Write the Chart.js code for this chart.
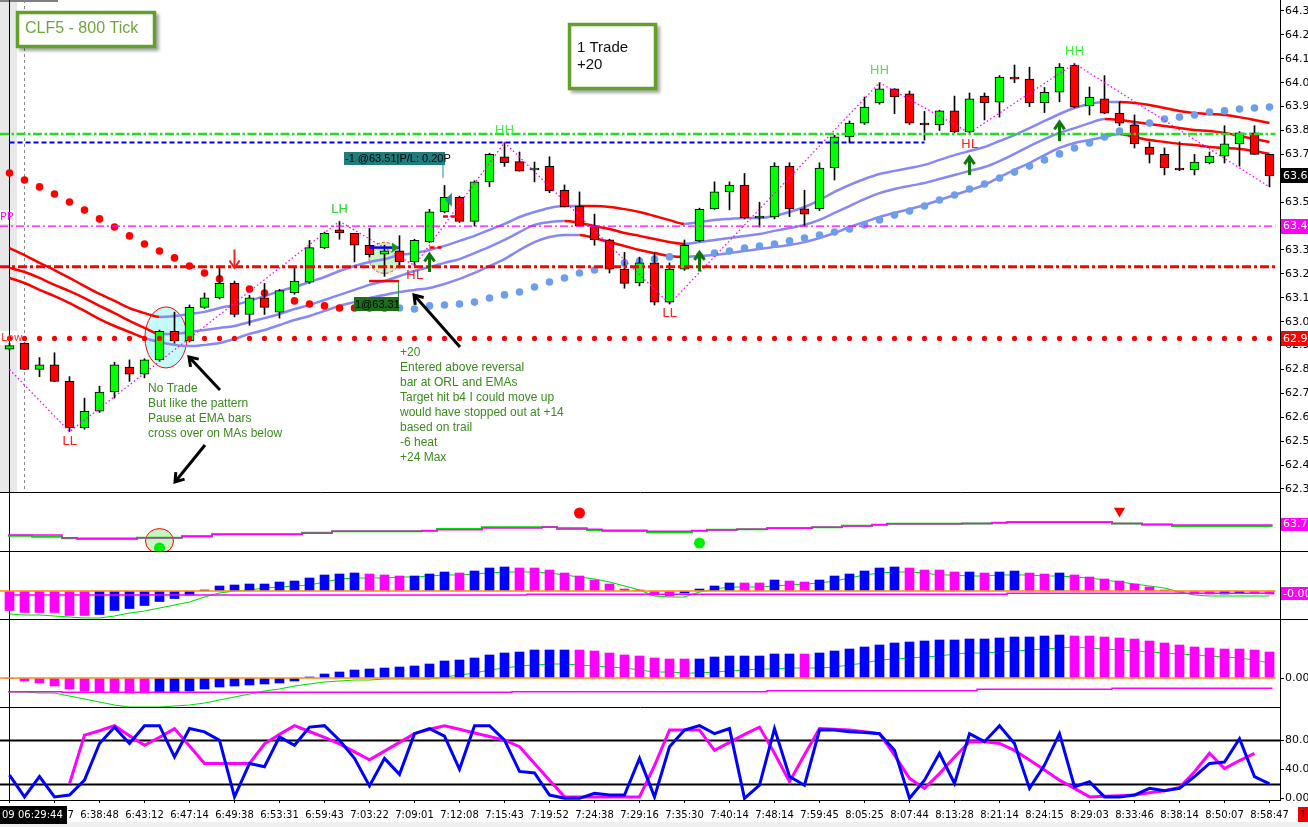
<!DOCTYPE html>
<html><head><meta charset="utf-8">
<script src="https://cdn.jsdelivr.net/npm/chart.js@4.4.1/dist/chart.umd.min.js"></script>
<style>
html,body{margin:0;padding:0;background:#fff;overflow:hidden;}
#wrap{position:relative;width:1308px;height:827px;background:#fff;}
canvas{position:absolute;left:0;}
</style></head><body>
<div id="wrap">
<canvas id="c1" width="1308" height="492" style="top:0px"></canvas>
<canvas id="c2" width="1308" height="59" style="top:492px"></canvas>
<canvas id="c3" width="1308" height="68" style="top:551px"></canvas>
<canvas id="c4" width="1308" height="88" style="top:619px"></canvas>
<canvas id="c5" width="1308" height="120" style="top:707px"></canvas>
</div>
<script>
// ---------------- DATA ----------------
const tickBars = [0,3,6,9,12,15,18,21,24,27,30,33,36,39,42,45,48,51,54,57,60,63,66,69,72,75,78,81,84];
const timeLabels = ['06:29:44','6:34:17','6:38:48','6:43:12','6:47:14','6:49:38','6:53:31','6:59:43','7:03:22','7:09:01','7:12:08','7:15:43','7:19:52','7:24:38','7:29:16','7:35:30','7:40:14','7:48:14','7:59:45','8:05:25','8:07:44','8:13:28','8:21:14','8:24:15','8:29:03','8:33:46','8:38:14','8:50:07','8:58:47'];
const cursorDate = '09';
const priceTicks = [62.3,62.4,62.5,62.6,62.7,62.8,62.9,63.0,63.1,63.2,63.3,63.4,63.5,63.6,63.7,63.8,63.9,64.0,64.1,64.2,64.3];

const open = [
 62.885,62.91,62.80,62.82,62.75,62.555,62.626,62.706,62.81,62.78,
 62.84,62.96,62.92,63.06,63.10,63.16,63.03,63.10,63.04,63.12,
 63.165,63.31,63.384,63.37,63.32,63.283,63.296,63.25,63.335,63.46,
 63.52,63.42,63.585,63.69,63.67,63.635,63.65,63.55,63.484,63.40,
 63.342,63.22,63.162,63.246,63.082,63.22,63.338,63.472,63.543,63.572,
 63.434,63.438,63.651,63.472,63.472,63.643,63.773,63.831,63.915,63.974,
 63.953,63.831,63.823,63.882,63.794,63.944,63.919,64.024,64.015,63.915,
 63.96,64.074,63.903,63.932,63.873,63.823,63.731,63.70,63.643,63.635,
 63.664,63.693,63.744,63.79,63.70];
const high = [
 62.91,62.91,62.85,62.87,62.77,62.68,62.73,62.83,62.84,62.845,
 62.965,63.04,63.07,63.12,63.23,63.17,63.11,63.16,63.135,63.23,
 63.34,63.375,63.42,63.37,63.39,63.32,63.36,63.345,63.47,63.57,
 63.525,63.59,63.705,63.75,63.71,63.668,63.69,63.572,63.543,63.45,
 63.345,63.29,63.27,63.288,63.246,63.342,63.475,63.585,63.585,63.62,
 63.50,63.665,63.665,63.55,63.665,63.78,63.84,63.94,64.00,63.975,
 63.965,63.88,63.885,63.944,63.957,63.957,64.03,64.074,64.065,63.98,
 64.08,64.08,63.982,64.03,63.92,63.865,63.752,63.727,63.752,63.70,
 63.71,63.82,63.795,63.82,63.70];
const low = [
 62.88,62.80,62.77,62.75,62.54,62.55,62.62,62.68,62.75,62.765,
 62.835,62.91,62.915,63.055,63.095,63.02,62.985,63.03,63.015,63.115,
 63.16,63.305,63.345,63.25,63.27,63.19,63.225,63.235,63.33,63.455,
 63.415,63.40,63.565,63.65,63.63,63.585,63.54,63.48,63.40,63.32,
 63.204,63.14,63.15,63.07,63.074,63.215,63.335,63.47,63.468,63.43,
 63.396,63.43,63.44,63.40,63.465,63.593,63.748,63.825,63.91,63.87,
 63.825,63.76,63.80,63.79,63.79,63.844,63.856,64.00,63.90,63.875,
 63.92,63.895,63.865,63.87,63.82,63.727,63.664,63.614,63.632,63.614,
 63.66,63.664,63.651,63.70,63.564];
const close = [
 62.90,62.80,62.82,62.75,62.555,62.625,62.706,62.82,62.78,62.84,
 62.96,62.92,63.06,63.10,63.16,63.03,63.10,63.06,63.13,63.17,
 63.31,63.37,63.371,63.32,63.28,63.297,63.25,63.34,63.46,63.52,
 63.42,63.585,63.70,63.665,63.63,63.643,63.547,63.48,63.40,63.342,
 63.22,63.16,63.246,63.082,63.22,63.32,63.47,63.543,63.572,63.434,
 63.442,63.651,63.472,63.45,63.643,63.773,63.831,63.898,63.974,63.94,
 63.831,63.823,63.882,63.794,63.932,63.915,64.024,64.015,63.915,63.96,
 64.065,63.898,63.94,63.873,63.831,63.744,63.70,63.643,63.635,63.668,
 63.693,63.744,63.79,63.70,63.61];

const ema1 = [
 63.308,63.279,63.246,63.216,63.183,63.149,63.116,63.087,63.057,63.036,
 63.020,63.024,63.032,63.041,63.057,63.070,63.087,63.107,63.128,63.145,
 63.166,63.187,63.212,63.233,63.250,63.262,63.279,63.287,63.300,63.317,
 63.338,63.359,63.384,63.409,63.438,63.459,63.476,63.484,63.484,63.484,
 63.480,63.471,63.459,63.442,63.425,63.409,63.417,63.425,63.430,63.434,
 63.434,63.442,63.459,63.480,63.509,63.543,63.572,63.597,63.618,63.631,
 63.643,63.656,63.677,63.697,63.714,63.731,63.756,63.781,63.810,63.840,
 63.869,63.894,63.911,63.919,63.919,63.915,63.907,63.894,63.882,63.873,
 63.869,63.865,63.856,63.844,63.831];
const ema2 = [
 63.225,63.208,63.183,63.154,63.128,63.099,63.066,63.036,63.003,62.974,
 62.949,62.949,62.957,62.965,62.974,62.982,62.999,63.015,63.032,63.053,
 63.070,63.091,63.112,63.133,63.154,63.170,63.191,63.212,63.229,63.246,
 63.262,63.287,63.313,63.342,63.375,63.405,63.417,63.421,63.413,63.400,
 63.388,63.371,63.359,63.346,63.333,63.325,63.333,63.342,63.350,63.359,
 63.367,63.380,63.392,63.405,63.426,63.455,63.484,63.513,63.538,63.555,
 63.568,63.580,63.597,63.614,63.631,63.647,63.672,63.702,63.735,63.764,
 63.790,63.810,63.831,63.848,63.844,63.836,63.827,63.819,63.810,63.802,
 63.798,63.790,63.777,63.764,63.752];
const ema3 = [
 63.183,63.162,63.133,63.107,63.078,63.045,63.011,62.982,62.957,62.932,
 62.915,62.903,62.898,62.903,62.911,62.928,62.949,62.965,62.986,63.007,
 63.024,63.045,63.066,63.082,63.099,63.112,63.124,63.133,63.141,63.158,
 63.179,63.204,63.233,63.262,63.300,63.333,63.354,63.363,63.363,63.350,
 63.333,63.317,63.300,63.287,63.275,63.271,63.275,63.279,63.287,63.296,
 63.304,63.313,63.321,63.333,63.350,63.371,63.396,63.417,63.438,63.455,
 63.471,63.488,63.509,63.530,63.551,63.572,63.605,63.635,63.664,63.697,
 63.727,63.748,63.760,63.773,63.785,63.773,63.760,63.752,63.744,63.739,
 63.731,63.727,63.723,63.714,63.702];
// bar ranges where each average is in its falling (red) state
const ema1Down = [[0,10],[38,45],[74,85]];
const ema2Down = [[0,10],[37,45],[73,85]];
const ema3Down = [[0,9],[38,45],[74,85]];

// trailing stop dots: red from bar 0, blue from bar 26
const sarRed = [63.622,63.593,63.564,63.534,63.501,63.467,63.430,63.396,63.359,63.325,
 63.296,63.267,63.233,63.204,63.179,null,63.137,63.120,63.103,63.087,
 63.074,63.066,63.057,63.057,63.057,63.057];
const sarBlueStart = 26;
const sarBlue = [63.057,63.053,63.066,63.070,
 63.074,63.082,63.099,63.112,63.124,63.145,63.166,63.183,63.204,63.216,
 63.233,63.246,63.254,63.262,63.271,63.271,63.275,63.287,63.296,63.308,
 63.317,63.325,63.338,63.350,63.363,63.375,63.388,63.405,63.426,63.446,
 63.463,63.484,63.509,63.530,63.555,63.576,63.601,63.626,63.651,63.677,
 63.702,63.727,63.748,63.773,63.798,63.819,63.831,63.848,63.856,63.865,
 63.877,63.882,63.890,63.894,63.898];

// swing zigzag pivots [bar, price]
const swingPivots = [[0,62.80],[4,62.54],[22,63.42],[27,63.235],[33,63.75],[44,63.074],[58,64.00],[64,63.79],[71,64.08],[84,63.564]];
const swingLabels = [['LL',4,62.497],['LH',22,63.467],['HL',27,63.191],['HH',33,63.798],['LL',44,63.032],['HH',58,64.049],['HL',64,63.739],['HH',71,64.128]];
const signalArrows = [[15,63.302,63.225],[28,63.208,63.283],[46,63.21,63.29],[64,63.614,63.69],[70,63.755,63.836]];

const greenLevel = 63.785, blueLevel = 63.75, blueLevelEnd = 61, ppLevel = 63.40, redLevel = 63.23, lowLevel = 62.93;
const tradeEntry = 63.31, tradeStop = 63.17, tradeTarget = 63.44, tradeExit = 63.51;
const noTradeZone = [10.43, 62.934];
const entryZone = [25.0, 63.267];

// panel 2 step lines [bar where value starts, value]
const p2Mag = [[-0.1,63.618],[3.5,63.595],[4.5,63.590],[8.5,63.595],[11.5,63.604],[13.5,63.624],[19.5,63.633],[21.5,63.650],[27.5,63.655],[28.5,63.663],[31.5,63.678],[35.5,63.686],[36.5,63.678],[38.5,63.667],[39.5,63.658],[42.5,63.650],[45.5,63.655],[46.5,63.661],[48.5,63.667],[50.5,63.675],[53.5,63.684],[55.5,63.695],[57.5,63.706],[58.5,63.714],[63.5,63.717],[65.5,63.723],[66.5,63.726],[73.5,63.717],[75.5,63.709],[77.5,63.703],[84.2,63.703]];
const p2Grn = [[-0.1,63.612],[1.5,63.604],[3.5,63.590],[4.5,63.584],[8.5,63.595],[11.5,63.610],[13.5,63.624],[19.5,63.638],[21.5,63.650],[27.5,63.655],[28.5,63.669],[31.5,63.684],[35.5,63.686],[36.5,63.669],[38.5,63.661],[39.5,63.652],[42.5,63.641],[45.5,63.655],[46.5,63.663],[48.5,63.667],[50.5,63.678],[53.5,63.684],[55.5,63.697],[57.5,63.706],[58.5,63.714],[63.5,63.717],[65.5,63.723],[66.5,63.728],[73.5,63.717],[75.5,63.706],[77.5,63.695],[84.2,63.695]];
const p2RedDots = [[38,63.805]];
const p2GreenDots = [[46,63.550],[10,63.508]];
const p2RedTriangles = [[74,63.822]];
const p2Zone = [10, 63.567];

const hist1 = [
 -0.039,-0.043,-0.043,-0.043,-0.049,-0.049,-0.047,-0.039,-0.035,-0.029,
 -0.021,-0.015,-0.008,0.002,0.010,0.012,0.014,0.014,0.018,0.020,
 0.026,0.032,0.034,0.036,0.034,0.032,0.030,0.030,0.034,0.038,
 0.036,0.040,0.046,0.048,0.046,0.046,0.042,0.036,0.030,0.022,
 0.014,0.004,0.002,-0.008,-0.010,-0.004,0.004,0.010,0.016,0.016,
 0.016,0.022,0.020,0.018,0.022,0.030,0.034,0.040,0.046,0.048,
 0.046,0.042,0.042,0.038,0.038,0.036,0.038,0.040,0.036,0.034,
 0.036,0.032,0.028,0.024,0.020,0.014,0.008,0.002,-0.002,-0.006,
 -0.006,-0.006,-0.004,-0.004,-0.006];
const hist1Col = 'MMMMMM'+'BBBBBBBBBBBBBBBBBB'+'MMM'+'BBB'+'M'+'BBB'+'MMMMMMMMMMM'+'BBBB'+'MM'+'B'+'MM'+'BBBBBB'+'MMMM'+'B'+'M'+'BB'+'MM'+'B'+'MMMMMMMMMM'+'BB'+'MM';
const sig1 = [
 -0.046,-0.048,-0.048,-0.050,-0.052,-0.054,-0.054,-0.050,-0.044,-0.040,
 -0.034,-0.028,-0.022,-0.012,-0.004,0.000,0.002,0.006,0.008,0.010,
 0.012,0.018,0.024,0.026,0.026,0.026,0.028,0.028,0.030,0.032,
 0.032,0.034,0.036,0.038,0.038,0.038,0.036,0.032,0.028,0.024,
 0.018,0.010,0.002,-0.010,-0.012,-0.012,-0.002,0.004,0.008,0.008,
 0.008,0.010,0.012,0.014,0.016,0.020,0.026,0.032,0.036,0.038,
 0.038,0.036,0.032,0.032,0.030,0.030,0.032,0.032,0.032,0.030,
 0.030,0.028,0.026,0.022,0.018,0.014,0.010,0.006,-0.002,-0.008,
 -0.010,-0.010,-0.010,-0.010,-0.010];
const base1 = [[-0.1,-0.008],[34.5,-0.0065],[66.5,-0.0047],[84.2,-0.0047]];

const hist2 = [
 -0.0005,-0.003,-0.005,-0.008,-0.011,-0.013,-0.014,-0.014,-0.015,-0.015,
 -0.014,-0.014,-0.013,-0.011,-0.009,-0.008,-0.007,-0.006,-0.005,-0.003,
 0.001,0.004,0.006,0.008,0.009,0.010,0.011,0.012,0.014,0.017,
 0.018,0.020,0.023,0.025,0.026,0.028,0.028,0.028,0.028,0.027,
 0.025,0.023,0.022,0.020,0.019,0.019,0.019,0.021,0.022,0.022,
 0.022,0.024,0.024,0.024,0.025,0.027,0.029,0.031,0.033,0.035,
 0.036,0.037,0.038,0.038,0.039,0.039,0.040,0.041,0.041,0.042,
 0.043,0.042,0.042,0.041,0.040,0.039,0.037,0.035,0.033,0.031,
 0.030,0.029,0.029,0.028,0.026];
const hist2Col = 'MMMMMMMMMM'+'BBBBBBBBBBBBBBBBBBBBBBBBBBBB'+'MMMMMMMM'+'BBBBBBB'+'M'+'BBBBBBBBBBBBBBBBB'+'MMMMMMMMMMMMMM';
const sig2 = [
 -0.014,-0.014,-0.015,-0.015,-0.018,-0.021,-0.024,-0.027,-0.029,-0.029,
 -0.029,-0.028,-0.027,-0.025,-0.022,-0.019,-0.016,-0.013,-0.011,-0.008,
 -0.006,-0.004,-0.003,-0.002,-0.002,-0.001,-0.001,-0.001,-0.001,0.001,
 0.003,0.005,0.008,0.010,0.012,0.013,0.014,0.014,0.013,0.012,
 0.011,0.010,0.008,0.006,0.006,0.005,0.005,0.006,0.007,0.008,
 0.009,0.009,0.010,0.010,0.010,0.011,0.013,0.015,0.018,0.019,
 0.020,0.021,0.022,0.024,0.025,0.025,0.026,0.027,0.028,0.029,
 0.030,0.031,0.030,0.029,0.028,0.027,0.026,0.025,0.024,0.023,
 0.022,0.021,0.020,0.018,0.015];
const base2 = [[-0.1,-0.0137],[3.5,-0.0143],[33.5,-0.0137],[50.5,-0.0127],[64.5,-0.0113],[73.5,-0.0103],[84.2,-0.0103]];

const stochK = [
 32,2,30,2,4.5,25,75.5,98,75.5,100,
 100,57,96,91.5,80,2,48,43.5,84.6,73,
 98,100,80,55,17,55,33,89,96,85.6,
 40,100,100,80,37,35,4.5,0,0,7,
 4.5,4.5,55,2,71,94,100,89,96,0,
 18,96,30,18,94,94,91.5,90.5,89,66,
 0,25,62,20.5,89,78,100,75.5,13.7,45.7,
 89,16,23,2,2,4.5,13.7,10.5,13.7,30,
 48,50,82,30,20];
const stochD = [
 null,null,null,null,20,87,93,100,86,73,
 84,96,72,48,48,48,48,75,88,100,
 92,84,75,64,53,65,77,89,95,100,
 95,90,85,80,71,48,25,2,2,2,
 2,2,2,45,94,94,94,66,77,88,
 98,62,23,60,96,95,94,91.5,89,59.5,
 27.5,13.7,34,57,78,78,75.5,66,52.6,39,
 25,13.7,2,3,3.6,4.5,7.7,10.5,15,36.6,
 62,41,52,62,null];
const stochLevels = [80,20];
const stochTicks = [0,40,80];

const note1 = ['No Trade','But like the pattern','Pause at EMA bars','cross over on MAs below'];
const note2 = ['+20','Entered above reversal','bar at ORL and EMAs','Target hit b4 I could move up','would have stopped out at +14','based on trail','-6 heat','+24 Max'];

// ---------------- HELPERS ----------------
const AXF = "'DejaVu Sans', Verdana, sans-serif";
const NF = "'Liberation Sans', Arial, sans-serif";
const idx = open.map((_, i) => i);
const XMIN = -0.6333, XMAX = 84.7;
const RED = '#ff0000', LAV = '#8788f3', MAG = '#ff00ff', BLU = '#0000ff';

function seg(c,x1,y1,x2,y2,col,w,dash){c.save();c.beginPath();c.strokeStyle=col;c.lineWidth=w;c.setLineDash(dash||[]);c.moveTo(x1,y1);c.lineTo(x2,y2);c.stroke();c.restore();}
function txt(c,s,x,y,col,font,align){c.save();c.fillStyle=col;c.font=font;c.textAlign=align||'left';c.textBaseline='middle';c.fillText(s,x,y);c.restore();}
function tag(c,s,x,y,bg,fg,w,h){c.save();c.fillStyle=bg;c.fillRect(x,Math.round(y-h/2),w,h);c.fillStyle=fg;c.font='11px '+AXF;c.textBaseline='middle';c.fillText(s,x+2,y+0.5);c.restore();}
function head(c,x1,y1,x2,y2,len,col,w){const a=Math.atan2(y2-y1,x2-x1);c.save();c.strokeStyle=col;c.lineWidth=w;c.beginPath();c.moveTo(x2-len*Math.cos(a-0.6),y2-len*Math.sin(a-0.6));c.lineTo(x2,y2);c.lineTo(x2-len*Math.cos(a+0.6),y2-len*Math.sin(a+0.6));c.stroke();c.restore();}
function hiddenX(){return {type:'linear',min:XMIN,max:XMAX,display:false,offset:false};}
function rightY(min,max,vals,fmt){
  const show = !!vals;
  return {type:'linear',position:'right',min,max,
    grid:{drawOnChartArea:false,drawTicks:show,tickLength:4,color:'#000'},
    border:{display:true,color:'#000',width:1},
    ticks:{display:show,color:'#000',font:{family:AXF,size:11},padding:1,callback:v=>fmt?fmt(v):''},
    afterBuildTicks(s){ if(vals) s.ticks = vals.map(v=>({value:v})); },
    afterFit(s){ s.width=28; s.paddingTop=0; s.paddingBottom=0; }
  };
}
function opts(scales){return {responsive:false,animation:false,events:[],layout:{padding:0,autoPadding:false},plugins:{legend:{display:false},tooltip:{enabled:false}},scales};}
function downColor(ranges){return ctx => ranges.some(r=>ctx.p0DataIndex>=r[0]&&ctx.p0DataIndex<r[1]) ? RED : LAV;}
function lineDS(vals, extra){return Object.assign({type:'line',data:idx.map(i=>({x:i,y:vals[i]})),pointRadius:0,borderWidth:1.2,fill:false},extra);}
function pts(list){return list.map(([x,y])=>({x,y}));}
function tools(ch){return {c:ch.ctx,a:ch.chartArea,X:v=>ch.scales.x.getPixelForValue(v),Y:v=>ch.scales.y.getPixelForValue(v)};}

// ---------------- MAIN PANEL ----------------
const mainPlugin = {
  id:'mainDeco',
  beforeDatasetsDraw(ch){
    const {c,a,X,Y} = tools(ch);
    c.save();
    c.fillStyle='#e8e8e8'; c.fillRect(0,0,17,a.bottom);
    c.fillStyle='#fff'; c.fillRect(0,210,15,14); c.fillRect(0,331,24,14);
    c.fillStyle='#808080'; c.fillRect(0,0,58,2);
    c.restore();
    seg(c,X(1),0,X(1),a.bottom,'#8a8a8a',1,[3,3]);
    seg(c,X(0),0,X(0),a.bottom,'#000',1);
    c.save(); c.beginPath(); c.ellipse(X(noTradeZone[0]),Y(noTradeZone[1]),21,30.5,0,0,Math.PI*2);
    c.fillStyle='#c6fbfb'; c.fill(); c.strokeStyle=RED; c.lineWidth=1; c.stroke(); c.restore();
    c.save(); c.beginPath(); c.arc(X(entryZone[0]),Y(entryZone[1]),15.5,0,Math.PI*2);
    c.fillStyle='#c9f5c4'; c.fill(); c.strokeStyle='#ff3333'; c.setLineDash([3,2]); c.lineWidth=1; c.stroke(); c.restore();
  },
  afterDatasetsDraw(ch){
    const {c,a,X,Y} = tools(ch);
    const right = X(84.4);
    seg(c,0,Y(ppLevel),right,Y(ppLevel),MAG,1.2,[8,3,2,3]);
    seg(c,0,Y(redLevel),right,Y(redLevel),RED,3,[9,3,3,3]);
    seg(c,X(0),Y(blueLevel),X(blueLevelEnd),Y(blueLevel),'#0000ee',2,[5,3]);
    seg(c,0,Y(greenLevel),right,Y(greenLevel),'#22dd22',2.5,[9,2.5,2.5,2.5]);
    c.save(); c.fillStyle=RED;
    idx.forEach(i=>{c.beginPath();c.arc(X(i),Y(lowLevel),2.6,0,Math.PI*2);c.fill();});
    c.restore();
    // trade markers
    seg(c,X(23.97),Y(tradeEntry),X(25.97),Y(tradeEntry),BLU,2.5);
    seg(c,X(23.97),Y(tradeStop),X(25.97),Y(tradeStop),RED,2.5);
    seg(c,X(28.0),Y(tradeEntry),X(28.8),Y(tradeEntry),RED,2.5,[5,3]);
    seg(c,X(28.9),Y(tradeTarget),X(29.8),Y(tradeTarget),RED,2.5,[5,3]);
    seg(c,X(25.93),Y(tradeStop)+1,X(25.93),297,'#2a8a2a',1);
    seg(c,X(28.9),165,X(28.9),Y(tradeExit)-22,'#2a8585',1);
    c.save();
    c.fillStyle='#1f8f1f'; c.beginPath(); c.moveTo(X(25.97),Y(tradeEntry)); c.lineTo(X(25.97)-7,Y(tradeEntry)-5); c.lineTo(X(25.97)-7,Y(tradeEntry)+5); c.closePath(); c.fill();
    c.fillStyle='#2a8a8a'; c.beginPath(); c.moveTo(X(29.03),Y(tradeExit)); c.lineTo(X(29.03)+7,Y(tradeExit)-7); c.lineTo(X(29.03)+7,Y(tradeExit)+7); c.closePath(); c.fill();
    c.restore();
    // swing labels
    swingLabels.forEach(([t,i,p])=>{
      const col = t==='HH' ? '#3cf23c' : (t==='LH' ? '#2ed62e' : '#ff2020');
      txt(c,t,X(i),Y(p),col,'13px '+AXF,'center');
    });
    // signal arrows
    signalArrows.forEach(([i,from,to])=>{
      const down = to < from, col = down ? '#ee2222' : '#0b7a0b', w = down ? 2 : 3;
      seg(c,X(i),Y(from),X(i),Y(to),col,w);
      head(c,X(i),Y(from),X(i),Y(to),9,col,w);
    });
  },
  afterDraw(ch){
    const {c,a,X,Y} = tools(ch);
    txt(c,'PP',0,217,MAG,'11px '+AXF);
    txt(c,'Low',1,338,'#ff3030','11px '+AXF);
    // order labels
    c.save(); c.fillStyle='#1f7d7d'; c.fillRect(344,152,101,13); c.fillStyle='#1c6e1c'; c.fillRect(354,297,45,14); c.restore();
    txt(c,'-1 @63.51|P/L: 0.20P',345,159,'#000','11px '+NF);
    txt(c,'1@63.31',355,304.5,'#000','11px '+NF);
    // notes
    note1.forEach((s,k)=>txt(c,s,148,389+15*k,'#3c8a1e','12px '+NF));
    note2.forEach((s,k)=>txt(c,s,400,353+15*k,'#3c8a1e','12px '+NF));
    [[220,390,189,357],[205,445,175,482],[460,347,414,295]].forEach(([x1,y1,x2,y2])=>{
      seg(c,x1,y1,x2,y2,'#000',3); head(c,x1,y1,x2,y2,10,'#000',3);
    });
    // boxes
    c.save();
    c.shadowColor='rgba(0,0,0,0.35)'; c.shadowOffsetX=3; c.shadowOffsetY=3; c.shadowBlur=3;
    c.fillStyle='#fff'; c.fillRect(16,11,140,37); c.fillRect(568,23,89,67);
    c.restore();
    c.save(); c.strokeStyle='#62a02a'; c.lineWidth=3.5; c.strokeRect(17.5,12.5,137,34); c.strokeRect(569.5,24.5,86,64); c.restore();
    txt(c,'CLF5 - 800 Tick',25,29,'#6fa53a','16px '+NF);
    txt(c,'1 Trade',577,48,'#111','15px '+NF);
    txt(c,'+20',577,65,'#111','15px '+NF);
    // axis tags
    tag(c,close[close.length-1].toFixed(2),1281,Y(close[close.length-1]),'#000','#fff',27,15);
    tag(c,ppLevel.toFixed(2),1281,Y(ppLevel),MAG,'#fff',27,15);
    tag(c,lowLevel.toFixed(2),1281,Y(lowLevel),RED,'#fff',27,15);
  }
};

new Chart(document.getElementById('c1'), {
  type:'bar',
  data:{datasets:[
    {type:'line',data:pts(swingPivots),borderColor:MAG,borderWidth:1.3,borderDash:[1.5,2.5],pointRadius:0,order:0},
    {type:'bar',data:idx.map(i=>({x:i,y:[open[i],close[i]]})),backgroundColor:idx.map(i=>close[i]>=open[i]?'#00ff00':RED),borderColor:'#000',borderWidth:1,borderSkipped:false,barThickness:9,grouped:false,order:1},
    {type:'bar',data:idx.map(i=>({x:i,y:[low[i],high[i]]})),backgroundColor:'#000',borderWidth:0,barThickness:1,grouped:false,order:2},
    {type:'line',data:sarRed.map((v,i)=>({x:i,y:v})),showLine:false,pointRadius:3.8,pointBackgroundColor:RED,pointBorderWidth:0,order:3},
    {type:'line',data:sarBlue.map((v,k)=>({x:k+sarBlueStart,y:v})),showLine:false,pointRadius:3.8,pointBackgroundColor:'#6d9eeb',pointBorderWidth:0,order:3},
    lineDS(ema1,{borderWidth:2.5,segment:{borderColor:downColor(ema1Down)},borderColor:LAV,cubicInterpolationMode:'monotone',order:4}),
    lineDS(ema2,{borderWidth:2.5,segment:{borderColor:downColor(ema2Down)},borderColor:LAV,cubicInterpolationMode:'monotone',order:4}),
    lineDS(ema3,{borderWidth:2.5,segment:{borderColor:downColor(ema3Down)},borderColor:LAV,cubicInterpolationMode:'monotone',order:4})
  ]},
  options:opts({x:hiddenX(),y:rightY(62.2874,64.346,priceTicks,v=>v.toFixed(2))}),
  plugins:[mainPlugin]
});

// ---------------- SUB PANELS ----------------
function panelPlugin(sepRight, before, after){
  return {id:'panel',
    beforeDatasetsDraw(ch){const t=tools(ch); seg(t.c,t.X(0),0,t.X(0),t.a.bottom,'#000',1); if(before) before(t);},
    afterDatasetsDraw(ch){const t=tools(ch); if(after) after(t);},
    afterDraw(ch){const t=tools(ch); seg(t.c,0,0.5,sepRight,0.5,'#000',1);}
  };
}

// panel 2
new Chart(document.getElementById('c2'), {
  type:'line',
  data:{datasets:[
    {data:pts(p2Grn),stepped:true,borderColor:'#00dd00',borderWidth:2,pointRadius:0,order:3},
    {data:pts(p2Mag),stepped:true,borderColor:MAG,borderWidth:1.5,pointRadius:0,order:2},
    {data:pts(p2RedDots),showLine:false,pointRadius:5.5,pointBackgroundColor:RED,pointBorderWidth:0,order:1},
    {data:pts(p2GreenDots),showLine:false,pointRadius:5.5,pointBackgroundColor:'#00ee00',pointBorderWidth:0,order:0},
    {data:pts(p2RedTriangles),showLine:false,pointStyle:'triangle',rotation:180,pointRadius:6.5,pointBackgroundColor:RED,pointBorderWidth:0,order:1}
  ]},
  options:opts({x:hiddenX(),y:rightY(63.483,63.983,null)}),
  plugins:[panelPlugin(1281,
    ({c,a,X,Y})=>{c.save();c.beginPath();c.rect(0,0,a.right,a.bottom);c.clip();c.beginPath();c.ellipse(X(p2Zone[0]),Y(p2Zone[1]),14,12.5,0,0,Math.PI*2);c.fillStyle='#c9f5c4';c.fill();c.strokeStyle=RED;c.lineWidth=1;c.stroke();c.restore();},
    ({c,a,X,Y})=>{const v=p2Mag[p2Mag.length-1][1]; tag(c,v.toFixed(2),1281,Y(v)-1,MAG,'#fff',27,13);})]
});

// panel 3
new Chart(document.getElementById('c3'), {
  type:'bar',
  data:{datasets:[
    {type:'line',data:pts(base1),stepped:true,borderColor:MAG,borderWidth:1.5,pointRadius:0,order:0},
    {type:'bar',data:idx.map(i=>({x:i,y:hist1[i]})),backgroundColor:idx.map(i=>hist1Col[i]==='B'?BLU:MAG),barThickness:9,borderWidth:0,order:1},
    lineDS(sig1,{borderColor:'#00dd00',borderWidth:1.2,order:2})
  ]},
  options:opts({x:hiddenX(),y:rightY(-0.056,0.080,null)}),
  plugins:[panelPlugin(1308,null,
    ({c,a,X,Y})=>{seg(c,0,Y(0),X(84.4),Y(0),'#ff8c00',1.5); const v=base1[base1.length-1][1]; tag(c,v.toFixed(3),1281,Y(v),MAG,'#fff',27,13);})]
});

// panel 4
new Chart(document.getElementById('c4'), {
  type:'bar',
  data:{datasets:[
    {type:'line',data:pts(base2),stepped:true,borderColor:MAG,borderWidth:1.5,pointRadius:0,order:0},
    {type:'bar',data:idx.map(i=>({x:i,y:hist2[i]})),backgroundColor:idx.map(i=>hist2Col[i]==='B'?BLU:MAG),barThickness:9,borderWidth:0,order:1},
    lineDS(sig2,{borderColor:'#00dd00',borderWidth:1.2,order:2})
  ]},
  options:opts({x:hiddenX(),y:rightY(-0.029,0.059,[0],v=>v.toFixed(3))}),
  plugins:[panelPlugin(1308,null,({c,a,X,Y})=>{seg(c,0,Y(0),X(84.4),Y(0),'#ff8c00',1.5);})]
});

// panel 5 (stochastic + time axis)
const xAxis5 = {type:'linear',min:XMIN,max:XMAX,position:'bottom',offset:false,
  grid:{drawOnChartArea:false,drawTicks:true,tickLength:3,color:'#000'},
  border:{display:true,color:'#000',width:1},
  ticks:{autoSkip:false,maxRotation:0,minRotation:0,padding:6,color:'#000',font:{family:AXF,size:10},
    callback(v){const k=tickBars.indexOf(v);return k>0?timeLabels[k]:'';}},
  afterBuildTicks(s){s.ticks=tickBars.map(v=>({value:v}));},
  afterFit(s){s.height=27;s.paddingLeft=0;s.paddingRight=0;}
};
new Chart(document.getElementById('c5'), {
  type:'line',
  data:{datasets:[
    lineDS(stochK,{borderColor:BLU,borderWidth:3,order:0}),
    lineDS(stochD,{borderColor:MAG,borderWidth:3,order:1})
  ]},
  options:opts({x:xAxis5,y:rightY(-2.3,125.7,stochTicks,v=>v.toFixed(2))}),
  plugins:[{id:'p5',
    beforeDatasetsDraw(ch){const {c,a,X,Y}=tools(ch);
      seg(c,X(0),0,X(0),a.bottom,'#000',1);
      stochLevels.forEach(v=>seg(c,0,Math.round(Y(v))+0.5,a.right,Math.round(Y(v))+0.5,'#000',2));},
    afterDraw(ch){const {c,a,X,Y}=tools(ch);
      seg(c,0,0.5,1281,0.5,'#000',1);
      c.save();
      c.fillStyle='#efefef'; c.fillRect(0,115,1308,5);
      c.fillStyle='#000'; c.fillRect(0,99,67,18);
      c.fillStyle='#ee0000'; c.fillRect(1298,100,10,15);
      c.restore();
      txt(c,cursorDate+' '+timeLabels[0],2,108.5,'#fff','10px '+AXF);
      txt(c,'1',1300,108,'#000','10px '+AXF);
    }}]
});
</script>
</body></html>
